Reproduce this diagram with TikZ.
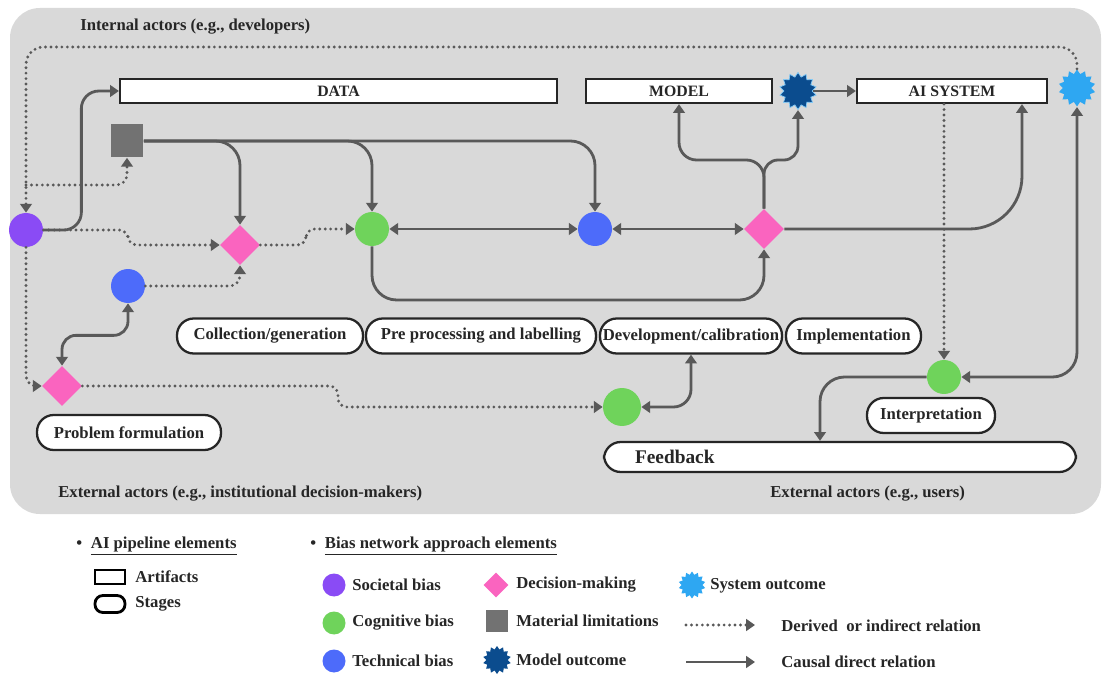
\documentclass[tikz,border=0pt]{standalone}
\usepackage{fontspec}
\setmainfont{Liberation Serif}
\usetikzlibrary{arrows.meta,shapes.geometric,calc}
\definecolor{bgc}{HTML}{D9D9D9}
\definecolor{lc}{HTML}{595959}
\definecolor{tc}{HTML}{262626}
\definecolor{purp}{HTML}{8A4BF5}
\definecolor{grn}{HTML}{6FD35B}
\definecolor{blu}{HTML}{4D6BFA}
\definecolor{pk}{HTML}{FA64BF}
\definecolor{sq}{HTML}{727272}
\definecolor{navy}{HTML}{0B4C8E}
\definecolor{lblu}{HTML}{2EA7F2}
\begin{document}
\begin{tikzpicture}[x=0.02cm,y=-0.02cm,
  >={Triangle[length=5pt,width=6.6pt]},
  conn/.style={draw=lc, line width=1.6pt, rounded corners=12pt},
  dconn/.style={draw=lc, line width=1.8pt, line cap=round, dash pattern=on 0pt off 3.1pt, rounded corners=5pt},
  bias/.style={circle, inner sep=0pt, minimum size=0.68cm},
  dec/.style={diamond, fill=pk, inner sep=0pt, minimum width=0.8cm, minimum height=0.8cm},
  art/.style={draw=black!85, line width=1.3pt, fill=white, inner sep=0pt, minimum height=0.48cm, font=\bfseries\fontsize{9}{10}\selectfont, text=tc},
  stg/.style={draw=black!85, line width=1.3pt, fill=white, rounded corners=9.5pt, inner sep=0pt, minimum height=0.7cm, font=\bfseries\fontsize{9.5}{11}\selectfont, text=tc},
  burst/.style={star, star points=14, star point ratio=1.3, inner sep=0pt, minimum size=0.74cm},
  lbl/.style={font=\bfseries\fontsize{9.5}{11}\selectfont, text=tc, inner sep=0pt},
]
\fill[white] (0,0) rectangle (1102,675);
\useasboundingbox (0,0) rectangle (1102,675);
\fill[bgc, rounded corners=17pt] (10,8) rectangle (1101,514);

% ---------- actor labels
\node[lbl, anchor=west] (intact) at (80,27) {Internal actors (e.g., developers)};
\node[lbl, anchor=west] (extinst) at (58,494) {External actors (e.g., institutional decision-makers)};
\node[lbl, anchor=west] (extusr) at (770,494) {External actors (e.g., users)};

% ---------- artifacts
\node[art, minimum width=8.74cm] (data) at (338.5,91) {DATA};
\node[art, minimum width=3.72cm] (model) at (679,91) {MODEL};
\node[art, minimum width=3.8cm] (aisys) at (952,91) {AI SYSTEM};
\node[burst, fill=navy, draw=lblu!60, line width=0.4pt] (modout) at (798,91) {};
\node[burst, fill=lblu] (sysout) at (1077,88) {};

% ---------- bias nodes
\node[fill=sq, inner sep=0pt, minimum size=0.66cm] (matlim) at (127,141) {};
\node[bias, fill=purp] (soc) at (26,230) {};
\node[dec] (dm1) at (240,245) {};
\node[bias, fill=blu] (tech1) at (128,286) {};
\node[dec] (dm2) at (62,386) {};
\node[bias, fill=grn] (cog1) at (372,229) {};
\node[bias, fill=blu] (tech2) at (595,229) {};
\node[dec] (dm3) at (764,229) {};
\node[bias, fill=grn, minimum size=0.76cm] (cog3) at (622,407) {};
\node[bias, fill=grn] (cog2) at (944,377) {};

% ---------- stages
\node[stg, minimum width=3.72cm] (colgen) at (270,336) {Collection/generation};
\node[stg, minimum width=4.6cm] (prep) at (481,336) {Pre processing and labelling};
\node[stg, minimum width=3.64cm] (devcal) at (691,336) {Development/calibration};
\node[stg, minimum width=2.7cm] (impl) at (853.5,336) {Implementation};
\node[stg, minimum width=3.68cm] (probf) at (129,432.5) {Problem formulation};
\node[stg, minimum width=2.56cm] (interp) at (931,415.5) {Interpretation};
\node[stg, font=\bfseries\fontsize{11}{13}\selectfont, minimum height=0.6cm, text width=8.2cm, inner xsep=0.62cm, align=left] (fb) at (840,457) {Feedback};

% ---------- dotted (derived / indirect) relations
\coordinate (topy) at (0,47);
\coordinate (br1) at (26,185);
\draw[dconn, ->, rounded corners=10pt] (sysout.north) -- (sysout.north |- topy) -- (soc.north |- topy) -- (soc.north);
\draw[dconn, ->, rounded corners=6pt] (br1) -| (matlim.south);
\draw[dconn, ->, rounded corners=6pt] (soc.south) |- (dm2.west);
\draw[dconn, ->] (soc.east) -- (128,230) -- (128,245) -- (dm1.west);
\draw[dconn, ->] (dm1.east) -- (306,245) -- (306,229) -- (cog1.west);
\draw[dconn, ->, rounded corners=6pt] (tech1.east) -| (dm1.south);
\draw[dconn, ->] (dm2.east) -- (338,386) -- (338,407) -- (cog3.west);
\draw[dconn, ->] (cog2.north |- aisys.south) -- (cog2.north);

% ---------- solid (causal direct) relations
\draw[conn, ->, rounded corners=10pt] (soc.east) -- ++(38,0) |- (data.west);
\draw[conn, ->, rounded corners=14pt] (matlim.east) -| (dm1.north);
\draw[conn, ->, rounded corners=14pt] (matlim.east) -| (cog1.north);
\draw[conn, ->, rounded corners=14pt] (matlim.east) -| (tech2.north);
\draw[conn, <->, rounded corners=8pt] (tech1.south) -- ++(0,32) -| (dm2.north);
\draw[conn, <->] (cog1) -- (tech2);
\draw[conn, <->] (tech2) -- (dm3);
\draw[conn, ->, rounded corners=14pt] (cog1.south) -- (cog1.south |- 0,300) -| (dm3.south);
\draw[conn, ->, rounded corners=10pt] (dm3.north) -- (dm3.north |- 0,160) -| (model.south);
\draw[conn, ->, rounded corners=8pt] (dm3.north) -- (dm3.north |- 0,160) -| (modout.south);
\draw[conn, ->] (modout) -- (aisys.west);
\draw[conn, ->, rounded corners=30pt] (dm3.east) -| ([xshift=1.4cm]aisys.south);
\draw[conn, <->, rounded corners=14pt] (cog2.east) -| (sysout.south);
\draw[conn, ->, rounded corners=14pt] (cog2.west) -| ([xshift=-0.4cm]fb.north);
\draw[conn, <->, rounded corners=10pt] (cog3.east) -| (devcal.south);

% ---------- legend
\node[lbl, anchor=west] (lgh1) at (76,546) {\textbullet\hspace{5pt}\underline{AI pipeline elements}};
\node[lbl, anchor=west] (lgh2) at (310,546) {\textbullet\hspace{5pt}\underline{Bias network approach elements}};
\node[draw=black, line width=1.6pt, minimum width=0.6cm, minimum height=0.28cm, inner sep=0pt] (lgart) at (110,577) {};
\node[lbl, anchor=west] (lgartt) at (135,577) {Artifacts};
\node[draw=black, line width=1.6pt, rounded corners=4.5pt, minimum width=0.6cm, minimum height=0.34cm, inner sep=0pt] (lgstg) at (110,604) {};
\node[lbl, anchor=west] (lgstgt) at (135,604) {Stages};

\node[circle, fill=purp, minimum size=0.46cm, inner sep=0pt] (lgsoc) at (334,585) {};
\node[lbl, anchor=west] (lgsoct) at (352,585) {Societal bias};
\node[circle, fill=grn, minimum size=0.46cm, inner sep=0pt] (lgcog) at (334,623) {};
\node[lbl, anchor=west] (lgcogt) at (352,623) {Cognitive bias};
\node[circle, fill=blu, minimum size=0.46cm, inner sep=0pt] (lgtech) at (334,661) {};
\node[lbl, anchor=west] (lgtecht) at (352,661) {Technical bias};

\node[diamond, fill=pk, inner sep=0pt, minimum width=0.5cm, minimum height=0.5cm] (lgdec) at (496,585) {};
\node[lbl, anchor=west] (lgdect) at (516,585) {Decision-making};
\node[fill=sq, inner sep=0pt, minimum size=0.44cm] (lgmat) at (497,621) {};
\node[lbl, anchor=west] (lgmatt) at (516,621) {Material limitations};
\node[star, star points=14, star point ratio=1.3, inner sep=0pt, minimum size=0.56cm, fill=navy] (lgmod) at (497,660) {};
\node[lbl, anchor=west] (lgmodt) at (516,660) {Model outcome};

\node[star, star points=14, star point ratio=1.3, inner sep=0pt, minimum size=0.54cm, fill=lblu] (lgsys) at (692,585) {};
\node[lbl, anchor=west] (lgsyst) at (710,586) {System outcome};
\coordinate (ld1) at (686,625);
\coordinate (ld2) at (755,625);
\draw[dconn, ->] (ld1) -- (ld2);
\node[lbl, anchor=west] (lgdert) at (781,626) {Derived\ \ or indirect relation};
\coordinate (ls1) at (686,662);
\coordinate (ls2) at (755,662);
\draw[conn, ->] (ls1) -- (ls2);
\node[lbl, anchor=west] (lgcaut) at (781,662) {Causal direct relation};
\end{tikzpicture}
\end{document}
